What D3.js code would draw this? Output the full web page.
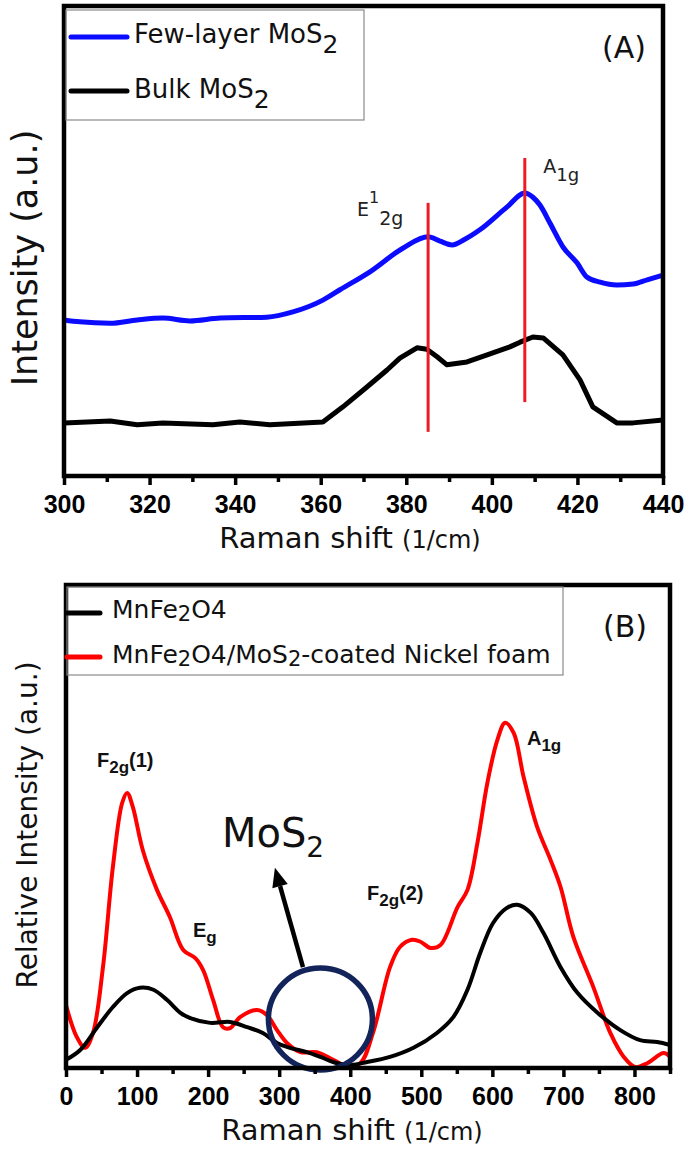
<!DOCTYPE html>
<html><head><meta charset="utf-8">
<script src="https://cdn.jsdelivr.net/npm/d3@7/dist/d3.min.js"></script>
<style>body{margin:0;background:#fff}svg{display:block}</style>
</head><body>
<script>
// ---------- Panel A data (Raman shift 1/cm, intensity a.u.) ----------
const fewLayerShift = [300,303.7,310.8,317.1,323.1,329.4,336.5,347.4,353.5,360.5,364.5,371.5,379.2,385.1,387.9,390.7,393.7,397.2,403.5,407.7,409.6,411.2,413.6,416.6,419.9,422.2,425.3,429.2,433,436.3,440];
const fewLayerInt   = [33.9,33.5,33.2,33.9,34.3,33.7,34.3,34.5,35.6,38.1,40.3,44.1,49.1,51.5,50.6,49.8,51.0,53.0,57.8,60.8,59.9,58.3,54.4,49.4,46.0,43.0,41.9,41.3,41.5,42.4,43.4];
const bulkShift = [300,310.8,317.1,323.1,334.8,341.1,348.1,360.5,365.2,370.8,375.5,378.5,382.5,384.8,387.2,389.5,394.2,398.9,404.2,406.6,409.6,412,416.6,420.6,423.6,429.2,433,440];
const bulkInt   = [12.1,12.5,11.7,12.1,11.7,12.3,11.7,12.3,15.5,19.7,23.3,25.8,28.0,27.7,26.1,24.4,25.0,26.5,28.2,29.2,30.3,30.1,26.5,21.2,15.5,12.1,12.1,12.7];
const peakLineShift = [385.1, 407.7];
const peakLineLow   = [10.2, 16.5];
const peakLineHigh  = [58.7, 68.2];
const ticksA = [300,320,340,360,380,400,420,440];
const minorTicksA = [310,330,350,370,390,410,430];

// ---------- Panel B data ----------
const ferriteShift = [0,20,44,66,86,104,123,142,161,175,203,231,255,277,297,315,339,358,376,396,424,456,489,522,545,565,583,601,620,635,654,672,696,720,748,780,808,832,850];
const ferriteInt   = [1.7,3.75,8.5,12.7,15.6,16.7,16.3,14.2,11.5,10.4,9.4,9.6,8.5,7.3,5.2,4.2,3.3,2.3,1.25,0.6,1.25,2.3,4.2,7.3,10.6,16.3,24.0,30.2,33.3,34.0,32.3,28.1,21.0,15.6,11.5,7.9,5.8,5.4,4.8];
const compositeShift = [0,15,27,38,52,66,79,86,94,108,128,146,165,182,193,207,221,231,245,269,283,297,311,330,353,376,395,414,432,456,470,487,499,513,527,551,565,579,593,607,618,630,644,663,682,696,714,742,766,785,801,818,841,850];
const compositeInt   = [13.1,6.5,4.2,7.3,21,41.9,55.2,57.3,54.4,45.4,37.1,31.5,24.6,22.9,20.4,14.2,8.5,8.3,10.6,12.1,11,7.9,5.2,3.3,3.3,1.7,0.4,1.0,7.3,21,25.2,26.7,26.3,25,25.6,33.5,37.1,46.9,59.4,68.3,71.9,69.8,60.6,50.2,43.3,37.7,27.3,16.9,7.3,2.3,0.2,1,3.1,2.3];
const ticksB = [0,100,200,300,400,500,600,700,800];
const minorTicksB = [50,150,250,350,450,550,650,750,850];

const FONT = "'DejaVu Sans', 'Open Sans', sans-serif";
const TICKFONT = "'Liberation Sans Narrow', 'Liberation Sans', 'Open Sans', sans-serif";

const svg = d3.select("body").append("svg").attr("width",685).attr("height",1154);

// ---------- scales ----------
const xA = d3.scaleLinear().domain([300,440]).range([64,663]);
const yA = d3.scaleLinear().domain([0.85,100.4]).range([476,6]);
const xB = d3.scaleLinear().domain([0,850]).range([66,670]);
const yB = d3.scaleLinear().domain([0,100.6]).range([1068,585]);

function drawAxis(x, y, majors, minors, fmt){
  const y0 = y.range()[0];
  const g = svg.append("g").attr("transform",`translate(0,${y0})`);
  g.call(d3.axisBottom(x).tickValues(majors).tickSize(9).tickPadding(10).tickFormat(fmt));
  g.select(".domain").remove();
  g.selectAll(".tick line").attr("stroke","#000").attr("stroke-width",3.5);
  g.selectAll(".tick text").attr("font-family",TICKFONT).attr("font-weight","bold")
    .attr("font-size",25).attr("fill","#000");
  const gm = svg.append("g").attr("transform",`translate(0,${y0})`);
  gm.call(d3.axisBottom(x).tickValues(minors).tickSize(6).tickFormat(""));
  gm.select(".domain").remove();
  gm.selectAll(".tick line").attr("stroke","#000").attr("stroke-width",3.5);
}
function frame(x, y){
  const [x0,x1] = x.range(), [y0,y1] = y.range();
  svg.append("rect").attr("x",x0).attr("y",y1).attr("width",x1-x0).attr("height",y0-y1)
    .attr("fill","none").attr("stroke","#000").attr("stroke-width",4.5);
}
function xTitle(cx, y0){
  const t = svg.append("text").attr("x",cx).attr("y",y0+72).attr("text-anchor","middle")
    .attr("font-family",FONT).attr("font-size",29).attr("fill","#111");
  t.append("tspan").text("Raman shift ");
  t.append("tspan").attr("font-size",24).text("(1/cm)");
}

// ================= Panel A =================
const lineA = d3.line().x(d=>xA(d[0])).y(d=>yA(d[1]));
svg.append("path").datum(d3.zip(bulkShift,bulkInt))
  .attr("d", lineA.curve(d3.curveLinear)).attr("fill","none").attr("stroke","#000")
  .attr("stroke-width",5).attr("stroke-linejoin","round");
svg.append("path").datum(d3.zip(fewLayerShift,fewLayerInt))
  .attr("d", d3.line().x(d=>xA(d[0])).y(d=>yA(d[1])).curve(d3.curveMonotoneX)).attr("fill","none")
  .attr("stroke","#0b0bff").attr("stroke-width",5).attr("stroke-linejoin","round");
svg.selectAll(".peakline").data(peakLineShift).enter().append("line")
  .attr("x1",d=>xA(d)).attr("x2",d=>xA(d))
  .attr("y1",(d,i)=>yA(peakLineLow[i])).attr("y2",(d,i)=>yA(peakLineHigh[i]))
  .attr("stroke","#ec1c24").attr("stroke-width",3);

frame(xA,yA);
drawAxis(xA,yA,ticksA,minorTicksA,d3.format("d"));
xTitle(350, 476);

svg.append("text").attr("transform","translate(37,258) rotate(-90)").attr("text-anchor","middle")
  .attr("font-family",FONT).attr("font-size",35).attr("fill","#111").text("Intensity (a.u.)");

// legend A
svg.append("rect").attr("x",66).attr("y",10).attr("width",298).attr("height",110)
  .attr("fill","none").attr("stroke","#8a8a8a").attr("stroke-width",1.2);
const legA = [{label:"Few-layer MoS", color:"#0b0bff", y:37, base:43},
              {label:"Bulk MoS", color:"#000", y:91, base:98}];
legA.forEach(d=>{
  svg.append("line").attr("x1",71).attr("x2",127).attr("y1",d.y).attr("y2",d.y)
    .attr("stroke",d.color).attr("stroke-width",5).attr("stroke-linecap","round");
  const t = svg.append("text").attr("x",134).attr("y",d.base).attr("font-family",FONT)
    .attr("font-size",26).attr("fill","#111");
  t.append("tspan").text(d.label);
  t.append("tspan").attr("dy",10).attr("font-size",25).text("2");
});
svg.append("text").attr("x",624).attr("y",58).attr("text-anchor","middle").attr("font-family",FONT)
  .attr("font-size",30).attr("fill","#111").text("(A)");

// peak labels A
{
  const t = svg.append("text").attr("x",xA(368.5)).attr("y",yA(55.9)).attr("font-family",FONT)
    .attr("font-size",19).attr("fill","#222");
  t.append("tspan").text("E");
  t.append("tspan").attr("dy",-13).attr("font-size",16).text("1");
  t.append("tspan").attr("dy",22).attr("font-size",19).text("2g");
  const a = svg.append("text").attr("x",xA(412)).attr("y",yA(65.0)).attr("font-family",FONT)
    .attr("font-size",19).attr("fill","#222");
  a.append("tspan").text("A");
  a.append("tspan").attr("dy",8).attr("font-size",18).text("1g");
}

// ================= Panel B =================
const lineB = d3.line().x(d=>xB(d[0])).y(d=>yB(d[1])).curve(d3.curveCatmullRom.alpha(0.5));
svg.append("path").datum(d3.zip(compositeShift,compositeInt)).attr("d",lineB)
  .attr("fill","none").attr("stroke","#ff0000").attr("stroke-width",4).attr("stroke-linejoin","round");
svg.append("path").datum(d3.zip(ferriteShift,ferriteInt)).attr("d",lineB)
  .attr("fill","none").attr("stroke","#000").attr("stroke-width",4).attr("stroke-linejoin","round");

// MoS2 circle
svg.append("ellipse").attr("cx",xB(358)).attr("cy",yB(10.2)).attr("rx",52).attr("ry",51)
  .attr("fill","none").attr("stroke","#13245a").attr("stroke-width",5.5);

frame(xB,yB);
drawAxis(xB,yB,ticksB,minorTicksB,d3.format("d"));
xTitle(352, 1068);

svg.append("text").attr("transform","translate(37,825) rotate(-90)").attr("text-anchor","middle")
  .attr("font-family",FONT).attr("font-size",28).attr("fill","#111").text("Relative Intensity (a.u.)");

// legend B
svg.append("rect").attr("x",67).attr("y",587).attr("width",496).attr("height",88)
  .attr("fill","none").attr("stroke","#8a8a8a").attr("stroke-width",1.2);
{
  svg.append("line").attr("x1",67).attr("x2",100).attr("y1",613).attr("y2",613)
    .attr("stroke","#000").attr("stroke-width",5).attr("stroke-linecap","round");
  const t1 = svg.append("text").attr("x",112).attr("y",618).attr("font-family",FONT)
    .attr("font-size",25).attr("fill","#111");
  t1.append("tspan").text("MnFe");
  t1.append("tspan").attr("dy",3).attr("font-size",21).text("2");
  t1.append("tspan").attr("dy",-3).text("O4");
  svg.append("line").attr("x1",67).attr("x2",100).attr("y1",657).attr("y2",657)
    .attr("stroke","#ff0000").attr("stroke-width",5).attr("stroke-linecap","round");
  const t2 = svg.append("text").attr("x",112).attr("y",663).attr("font-family",FONT)
    .attr("font-size",25).attr("fill","#111");
  t2.append("tspan").text("MnFe");
  t2.append("tspan").attr("dy",3).attr("font-size",21).text("2");
  t2.append("tspan").attr("dy",-3).text("O4/MoS");
  t2.append("tspan").attr("dy",3).attr("font-size",21).text("2");
  t2.append("tspan").attr("dy",-3).text("-coated Nickel foam");
}
svg.append("text").attr("x",625).attr("y",637).attr("text-anchor","middle").attr("font-family",FONT)
  .attr("font-size",30).attr("fill","#111").text("(B)");

// peak labels B
function peakLabel(sh, v, main, sub, tail){
  const t = svg.append("text").attr("x",xB(sh)).attr("y",yB(v)).attr("font-family",TICKFONT)
    .attr("font-weight","bold").attr("font-size",20).attr("fill","#111");
  t.append("tspan").text(main);
  t.append("tspan").attr("dy",6).attr("font-size",17).text(sub);
  if (tail) t.append("tspan").attr("dy",-6).attr("font-size",20).text(tail);
}
peakLabel(43.6, 62.7, "F", "2g", "(1)");
peakLabel(178.7, 27.3, "E", "g", null);
peakLabel(423.6, 35, "F", "2g", "(2)");
peakLabel(648.7, 67.3, "A", "1g", null);

// MoS2 annotation + arrow
{
  const t = svg.append("text").attr("x",xB(219.5)).attr("y",yB(46)).attr("font-family",FONT)
    .attr("font-size",40).attr("fill","#111");
  t.append("tspan").text("MoS");
  t.append("tspan").attr("dy",10).attr("font-size",28).text("2");
  const tail = [xB(333.5), yB(21)], tip = [xB(294), yB(41.7)];
  const dx = tip[0]-tail[0], dy = tip[1]-tail[1], L = Math.hypot(dx,dy);
  const ux = dx/L, uy = dy/L, hl = 19, hw = 8;
  const bx = tip[0]-hl*ux, by = tip[1]-hl*uy;
  svg.append("line").attr("x1",tail[0]).attr("y1",tail[1]).attr("x2",bx).attr("y2",by)
    .attr("stroke","#000").attr("stroke-width",4.5);
  svg.append("path").attr("d",`M${tip[0]},${tip[1]}L${bx+hw*(-uy)},${by+hw*ux}L${bx-hw*(-uy)},${by-hw*ux}Z`)
    .attr("fill","#000");
}
</script>
</body></html>
